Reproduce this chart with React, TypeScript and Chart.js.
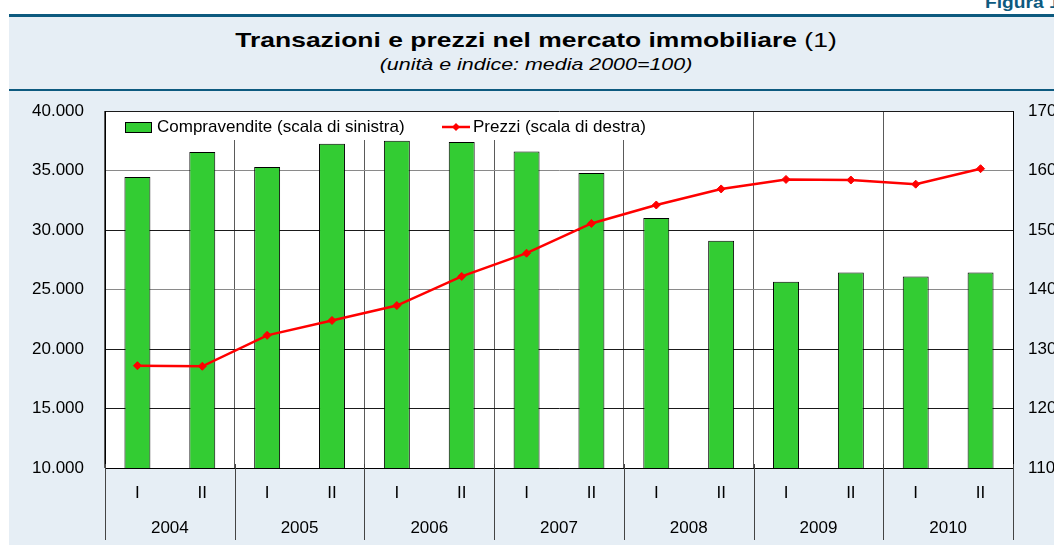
import React, { useEffect, useRef } from 'react';
import { Chart, registerables } from 'chart.js';

Chart.register(...registerables);

const PERIODS = ['I', 'II', 'I', 'II', 'I', 'II', 'I', 'II', 'I', 'II', 'I', 'II', 'I', 'II'];
const YEARS = ['2004', '2005', '2006', '2007', '2008', '2009', '2010'];
const SALES = [34450, 36550, 35300, 37250, 37500, 37400, 36600, 34800, 31000, 29100, 25650, 26420, 26100, 26420];
const PRICES = [127.2, 127.1, 132.3, 134.8, 137.3, 142.2, 146.1, 151.1, 154.2, 156.9, 158.5, 158.4, 157.7, 160.3];
const LEFT_TICKS = ['10.000', '15.000', '20.000', '25.000', '30.000', '35.000', '40.000'];
const RIGHT_TICKS = ['110', '120', '130', '140', '150', '160', '170'];
const SALES_LABEL = 'Compravendite (scala di sinistra)';
const PRICES_LABEL = 'Prezzi (scala di destra)';
const TITLE_BOLD = 'Transazioni e prezzi nel mercato immobiliare';
const TITLE_NOTE = ' (1)';
const SUBTITLE = '(unità e indice: media 2000=100)';
const FIG_LABEL = 'Figura 1.';

const FAMILY = "'Liberation Sans', Arial, Helvetica, sans-serif";
const LIGHT = '#e6eef5';
const DARK_BLUE = '#0d5a7f';
const CANVAS_W = 1080;
const CANVAS_H = 454;

const bgPlugin = {
  id: 'bgPlugin',
  beforeDraw(chart: any) {
    const { ctx, chartArea: a, width, height } = chart;
    ctx.save();
    ctx.fillStyle = LIGHT;
    ctx.fillRect(9, 0, width - 9, height);
    ctx.fillStyle = '#ffffff';
    ctx.fillRect(a.left, a.top, a.right - a.left, a.bottom - a.top);
    ctx.restore();
  },
};

const separatorPlugin = {
  id: 'separatorPlugin',
  afterDraw(chart: any) {
    const { ctx, chartArea: a } = chart;
    const xs = chart.scales.x;
    ctx.save();
    ctx.strokeStyle = '#444444';
    ctx.lineWidth = 1;
    for (let i = 0; i <= PERIODS.length; i += 2) {
      const px = Math.round(xs.getPixelForValue(i - 0.5)) + 0.5;
      ctx.beginPath();
      ctx.moveTo(px, a.bottom - 4);
      ctx.lineTo(px, a.bottom + 72);
      ctx.stroke();
    }
    ctx.restore();
  },
};

const legendPlugin = {
  id: 'boxLegend',
  afterDraw(chart: any) {
    const { ctx, chartArea: a } = chart;
    const dsBar = chart.data.datasets[1];
    const dsLine = chart.data.datasets[0];
    ctx.save();
    ctx.fillStyle = '#ffffff';
    ctx.fillRect(a.left + 1, a.top + 1, 560, 28);
    const cy = a.top + 16;
    // bar item
    const bx = a.left + 20;
    ctx.fillStyle = dsBar.backgroundColor;
    ctx.fillRect(bx, cy - 5, 26, 10);
    ctx.strokeStyle = '#000';
    ctx.lineWidth = 1;
    ctx.strokeRect(bx + 0.5, cy - 5 + 0.5, 26, 10);
    ctx.fillStyle = '#000';
    ctx.font = `17px ${FAMILY}`;
    ctx.textBaseline = 'middle';
    ctx.textAlign = 'left';
    ctx.fillText(dsBar.label, a.left + 52, cy);
    // line item
    const lx = a.left + 337;
    ctx.strokeStyle = dsLine.borderColor;
    ctx.lineWidth = 2.5;
    ctx.beginPath();
    ctx.moveTo(lx, cy);
    ctx.lineTo(lx + 28, cy);
    ctx.stroke();
    ctx.fillStyle = dsLine.borderColor;
    ctx.beginPath();
    ctx.moveTo(lx + 14, cy - 4);
    ctx.lineTo(lx + 18, cy);
    ctx.lineTo(lx + 14, cy + 4);
    ctx.lineTo(lx + 10, cy);
    ctx.closePath();
    ctx.fill();
    ctx.fillStyle = '#000';
    ctx.fillText(dsLine.label, a.left + 368, cy);
    ctx.restore();
  },
};

export default function App() {
  const canvasRef = useRef<HTMLCanvasElement | null>(null);

  useEffect(() => {
    if (!canvasRef.current) return;
    const font = { family: FAMILY, size: 17 };
    const chart = new Chart(canvasRef.current, {
      type: 'bar',
      data: {
        labels: PERIODS,
        datasets: [
          {
            type: 'line',
            label: PRICES_LABEL,
            data: PRICES,
            yAxisID: 'y1',
            xAxisID: 'x',
            borderColor: '#ff0000',
            backgroundColor: '#ff0000',
            borderWidth: 2.5,
            pointStyle: 'rectRot',
            pointRadius: 4,
            pointBackgroundColor: '#ff0000',
            pointBorderColor: '#ff0000',
            pointBorderWidth: 1,
            tension: 0,
            order: 0,
          } as any,
          {
            type: 'bar',
            label: SALES_LABEL,
            data: SALES,
            yAxisID: 'y',
            xAxisID: 'x',
            backgroundColor: '#33cc33',
            borderColor: '#000000',
            borderWidth: 1,
            barPercentage: 0.4,
            categoryPercentage: 1,
            order: 1,
          } as any,
        ],
      },
      options: {
        animation: false,
        responsive: true,
        maintainAspectRatio: false,
        events: [],
        layout: { padding: { top: 20, bottom: 7, left: 0, right: 0 } },
        plugins: {
          legend: { display: false },
          tooltip: { enabled: false },
          title: { display: false },
        },
        scales: {
          x: {
            type: 'category',
            position: 'bottom',
            offset: true,
            weight: 0,
            grid: {
              offset: true,
              drawTicks: false,
              lineWidth: 1,
              color: (c: any) =>
                c.index === undefined || c.index % 2 === 0 ? '#5a5a5a' : 'rgba(0,0,0,0)',
            },
            border: { display: true, color: '#000', width: 1 },
            ticks: { font, color: '#000', padding: 15, autoSkip: false, maxRotation: 0 },
            afterFit: (s: any) => {
              s.height = 50;
            },
          },
          x2: {
            type: 'category',
            labels: YEARS,
            position: 'bottom',
            offset: true,
            weight: 1,
            grid: { display: false, drawTicks: false },
            border: { display: false },
            ticks: { font, color: '#000', padding: 0, autoSkip: false, maxRotation: 0 },
            afterFit: (s: any) => {
              s.height = 20;
            },
          },
          y: {
            type: 'linear',
            position: 'left',
            min: 10000,
            max: 40000,
            ticks: {
              stepSize: 5000,
              font,
              color: '#000',
              padding: 0,
              callback: (_v: any, i: number) => LEFT_TICKS[i],
            },
            grid: {
              drawTicks: true,
              tickLength: 21,
              tickColor: 'rgba(0,0,0,0)',
              lineWidth: 1,
              color: (c: any) =>
                c.tick && (c.tick.value === 35000 || c.tick.value === 25000) ? '#8a8a8a' : '#1a1a1a',
            },
            border: { display: true, color: '#000', width: 1 },
            afterFit: (s: any) => {
              s.width = 105;
            },
          },
          y1: {
            type: 'linear',
            position: 'right',
            min: 110,
            max: 170,
            ticks: {
              stepSize: 10,
              font,
              color: '#000',
              padding: 0,
              callback: (_v: any, i: number) => RIGHT_TICKS[i],
            },
            grid: {
              drawOnChartArea: false,
              drawTicks: true,
              tickLength: 15,
              tickColor: 'rgba(0,0,0,0)',
            },
            border: { display: true, color: '#000', width: 1 },
            afterFit: (s: any) => {
              s.width = CANVAS_W - 1013;
            },
          },
        },
      } as any,
      plugins: [bgPlugin, separatorPlugin, legendPlugin],
    });
    return () => chart.destroy();
  }, []);

  return (
    <div
      style={{
        position: 'absolute',
        left: 0,
        top: 0,
        width: 1054,
        height: 545,
        overflow: 'hidden',
        background: '#ffffff',
        fontFamily: FAMILY,
      }}
    >
      <div
        style={{
          position: 'absolute',
          left: 985,
          top: -5.5,
          fontSize: 16,
          lineHeight: '16px',
          fontWeight: 'bold',
          color: DARK_BLUE,
          whiteSpace: 'nowrap',
          transform: 'scaleX(1.2)',
          transformOrigin: 'left center',
        }}
      >
        {FIG_LABEL}
      </div>
      <div
        style={{
          position: 'absolute',
          left: 9,
          top: 14,
          width: 1054,
          height: 72,
          borderTop: `3px solid ${DARK_BLUE}`,
          borderBottom: `3px solid ${DARK_BLUE}`,
          background: LIGHT,
        }}
      >
        <div
          style={{
            position: 'absolute',
            left: 0,
            right: 0,
            top: 12.2,
            textAlign: 'center',
            fontSize: 21,
            lineHeight: '21px',
            color: '#000',
            whiteSpace: 'nowrap',
            transform: 'scaleX(1.26)',
          }}
        >
          <span style={{ fontWeight: 'bold' }}>{TITLE_BOLD}</span>
          <span>{TITLE_NOTE}</span>
        </div>
        <div
          style={{
            position: 'absolute',
            left: 0,
            right: 0,
            top: 38.6,
            textAlign: 'center',
            fontSize: 17,
            lineHeight: '17px',
            fontStyle: 'italic',
            color: '#000',
            whiteSpace: 'nowrap',
            transform: 'scaleX(1.26)',
          }}
        >
          {SUBTITLE}
        </div>
      </div>
      <div
        style={{
          position: 'absolute',
          left: 0,
          top: 91,
          width: CANVAS_W,
          height: CANVAS_H,
        }}
      >
        <canvas ref={canvasRef} />
      </div>
    </div>
  );
}
